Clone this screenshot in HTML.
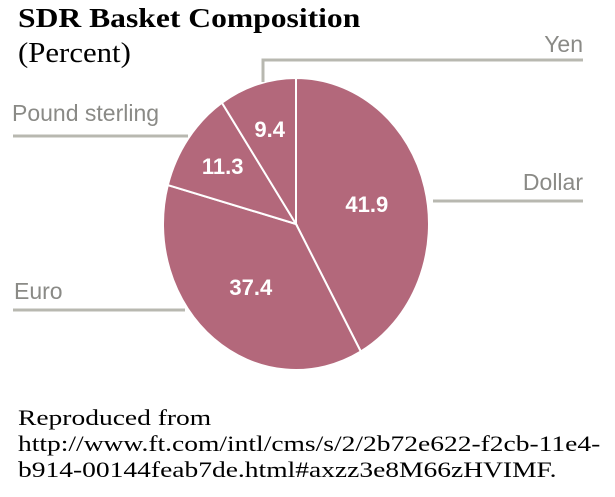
<!DOCTYPE html>
<html><head><meta charset="utf-8"><style>
body{margin:0;background:#fff;width:615px;height:497px;overflow:hidden;position:relative}
.t{position:absolute;font-family:"Liberation Serif",serif;color:#000;white-space:nowrap;transform-origin:0 0}
</style></head><body>
<div class="t" style="left:18px;top:3px;font-size:27px;font-weight:bold;transform:scaleX(1.17)">SDR Basket Composition</div>
<div class="t" style="left:18px;top:38px;font-size:28px;transform:scaleX(1.1)">(Percent)</div>
<svg id="chart" width="615" height="400" style="position:absolute;left:0;top:0" font-family="Liberation Sans, sans-serif"></svg>
<div class="t" style="left:18px;top:405px;font-size:22px;line-height:26px;transform:scaleX(1.25)">Reproduced from<br>http://www.ft.com/intl/cms/s/2/2b72e622-f2cb-11e4-<br>b914-00144feab7de.html#axzz3e8M66zHVIMF.</div>
<script>
const categories=["Dollar","Euro","Pound sterling","Yen"];
const values=[41.9,37.4,11.3,9.4];
const valueLabels=["41.9","37.4","11.3","9.4"];
const svg=document.getElementById('chart');
const NS="http://www.w3.org/2000/svg";
const cx=296,cy=224,rx=133,ry=146;
const total=values.reduce((a,b)=>a+b,0);
function pt(frac,k){const a=frac*2*Math.PI;return [cx+k*rx*Math.sin(a),cy-k*ry*Math.cos(a)];}
function mk(tag,attrs){const e=document.createElementNS(NS,tag);for(const k in attrs)e.setAttribute(k,attrs[k]);svg.appendChild(e);return e;}
const leaders=[
 {lbl:[583,190,"end"],path:"M433,201 H583"},
 {lbl:[14,299,"start"],path:"M13,310 H185"},
 {lbl:[12,121,"start"],path:"M13,136 H188"},
 {lbl:[583,52,"end"],path:"M263,82 V60 H583"}
];
let cum=0;
values.forEach((v,i)=>{
  const f0=cum/total,f1=(cum+v)/total;cum+=v;
  const p0=pt(f0,1),p1=pt(f1,1);
  const large=(f1-f0)>0.5?1:0;
  const s=mk('path',{d:`M${cx},${cy} L${p0[0]},${p0[1]} A${rx},${ry} 0 ${large} 1 ${p1[0]},${p1[1]} Z`,fill:'#b3687b',stroke:'#fff','stroke-width':2});
  
  
  const m=pt((f0+f1)/2,i<2?0.55:0.68);
  const t=mk('text',{x:m[0],y:m[1]+8,'text-anchor':'middle',fill:'#fff','font-size':22,'font-weight':'bold'});
  t.textContent=valueLabels[i];
  
  
  const L=leaders[i];
  const l=mk('path',{d:L.path,fill:'none',stroke:'#b8b8b0','stroke-width':3});
  
  
  const c=mk('text',{x:L.lbl[0],y:L.lbl[1],'text-anchor':L.lbl[2],fill:'#8a8a86','font-size':23});
  c.textContent=categories[i];
  
  
});
</script>
</body></html>
